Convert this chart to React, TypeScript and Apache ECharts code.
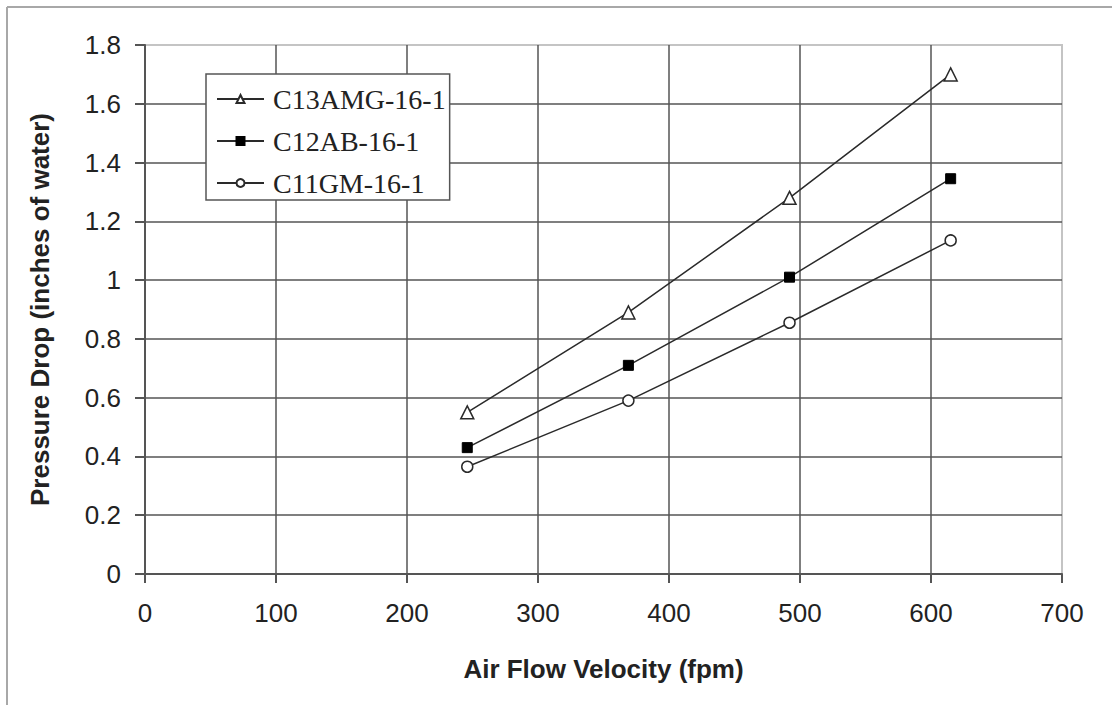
import React, { useEffect, useRef } from "react";
import * as echarts from "echarts";

const velocity = [246, 369, 492, 615];
const c13amg = [0.55, 0.89, 1.28, 1.70];
const c12ab = [0.43, 0.71, 1.01, 1.345];
const c11gm = [0.365, 0.59, 0.855, 1.135];
const seriesNames = ["C13AMG-16-1", "C12AB-16-1", "C11GM-16-1"];
const xTitle = "Air Flow Velocity (fpm)";
const yTitle = "Pressure Drop (inches of water)";

export default function App() {
  const ref = useRef<HTMLDivElement>(null);
  useEffect(() => {
    const chart = echarts.init(ref.current!, null, { renderer: "svg" });
    const lineColor = "#2a2a2a";
    const mk = (vals: number[]) => velocity.map((v, i) => [v, vals[i]]);
    const base = {
      type: "line",
      lineStyle: { color: lineColor, width: 1.5 },
      z: 5,
    };
    chart.setOption({
      animation: false,
      backgroundColor: "#fff",
      grid: {
        left: 145,
        right: 50,
        top: 45,
        bottom: 131,
        show: true,
        borderColor: "#c4c4c4",
        borderWidth: 2,
      },
      graphic: [
        { type: "line", shape: { x1: 7, y1: 7, x2: 1112, y2: 7 }, style: { stroke: "#a8a8a8", lineWidth: 2 } },
        { type: "line", shape: { x1: 7, y1: 7, x2: 7, y2: 705 }, style: { stroke: "#a8a8a8", lineWidth: 2 } },
      ],
      legend: {
        left: 206,
        top: 74,
        orient: "vertical",
        data: seriesNames,
        backgroundColor: "#fff",
        borderColor: "#555",
        borderWidth: 1.5,
        borderRadius: 0,
        padding: [11, 4, 3, 10],
        itemGap: 14,
        itemWidth: 47,
        itemHeight: 10,
        textStyle: { fontFamily: "Liberation Serif", fontSize: 28, color: "#222", padding: [0, 0, 0, 4] },
      },
      xAxis: {
        type: "value",
        min: 0,
        max: 700,
        interval: 100,
        name: xTitle,
        nameLocation: "middle",
        nameGap: 82,
        nameTextStyle: { fontFamily: "Liberation Sans", fontWeight: "bold", fontSize: 26, color: "#222" },
        axisLine: { show: true, lineStyle: { color: "#555", width: 2 } },
        axisTick: { show: true, length: 9, inside: false, lineStyle: { color: "#555", width: 2 } },
        axisLabel: { fontFamily: "Liberation Sans", fontSize: 26, color: "#222", margin: 26 },
        splitLine: { show: true, showMinLine: false, showMaxLine: false, lineStyle: { color: "#555", width: 1.5 } },
      },
      yAxis: {
        type: "value",
        min: 0,
        max: 1.8,
        interval: 0.2,
        name: yTitle,
        nameLocation: "middle",
        nameGap: 92,
        nameTextStyle: { fontFamily: "Liberation Sans", fontWeight: "bold", fontSize: 26, color: "#222" },
        axisLine: { show: true, lineStyle: { color: "#555", width: 2 } },
        axisTick: { show: true, length: 10, lineStyle: { color: "#555", width: 2 } },
        axisLabel: {
          fontFamily: "Liberation Sans",
          fontSize: 26,
          color: "#222",
          margin: 24,
          formatter: (v: number) => String(Math.round(v * 10) / 10),
        },
        splitLine: { show: true, showMinLine: false, showMaxLine: false, lineStyle: { color: "#555", width: 1.5 } },
      },
      series: [
        {
          ...base,
          name: seriesNames[0],
          data: mk(c13amg),
          symbol: "triangle",
          symbolSize: 13,
          itemStyle: { color: "#fff", borderColor: lineColor, borderWidth: 1.5 },
        },
        {
          ...base,
          name: seriesNames[1],
          data: mk(c12ab),
          symbol: "rect",
          symbolSize: 10,
          itemStyle: { color: "#000", borderColor: "#000", borderWidth: 1 },
        },
        {
          ...base,
          name: seriesNames[2],
          data: mk(c11gm),
          symbol: "circle",
          symbolSize: 11,
          itemStyle: { color: "#fff", borderColor: lineColor, borderWidth: 1.5 },
        },
      ],
    });
    return () => chart.dispose();
  }, []);
  return <div ref={ref} style={{ position: "absolute", left: 0, top: 0, width: 1112, height: 705 }} />;
}
